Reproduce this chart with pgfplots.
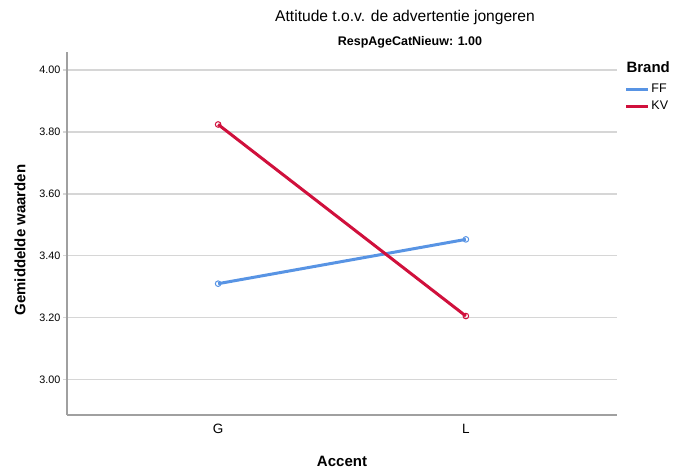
\documentclass[border=0pt]{standalone}
\usepackage{fontspec}
\setmainfont{Liberation Sans}
\usepackage{pgfplots}
\pgfplotsset{compat=1.18}
\definecolor{ffblue}{RGB}{88,148,228}
\definecolor{kvred}{RGB}{208,16,60}
\definecolor{gridgray}{RGB}{214,214,214}
\definecolor{axisgray}{RGB}{160,160,160}
\begin{document}
\begin{tikzpicture}[x=1pt,y=1pt]
\path[use as bounding box] (0,0) rectangle (687,472);
\begin{axis}[
  at={(67pt,57pt)}, anchor=south west,
  scale only axis, width=550pt, height=363pt,
  xmin=-0.61, xmax=1.61, ymin=2.886, ymax=4.058,
  xtick={0,1}, xticklabels={G,L},
  ytick={3,3.2,3.4,3.6,3.8,4},
  yticklabel style={/pgf/number format/fixed, /pgf/number format/fixed zerofill, /pgf/number format/precision=2},
  /pgf/number format/assume math mode=true,
  axis lines*=left,
  axis line style={axisgray, line width=1.4pt},
  ymajorgrids, grid style={gridgray, line width=1.3pt},
  tick align=outside,
  ytick style={gridgray, line width=1.3pt},
  major tick length=4pt,
  xtick style={draw=none},
  yticklabel style={font=\fontsize{10.8}{12}\selectfont, xshift=1pt},
  xticklabel style={font=\fontsize{13.5}{16}\selectfont, yshift=-2pt},
  legend style={at={(rel axis cs:1.014,0.916)}, anchor=north west, draw=none, fill=none,
    font=\fontsize{12.5}{14}\selectfont, row sep=4pt, inner sep=0pt,
    nodes={inner sep=1.5pt}},
  legend cell align=left,
  legend image code/.code={\draw[#1, line width=3pt] (0pt,0pt) -- (22pt,0pt);},
]
\addplot[ffblue, line width=3pt, mark=o, mark size=2.8pt, mark options={line width=1pt, fill=white}] coordinates {(0,3.310) (1,3.453)};
\addlegendentry{FF}
\addplot[kvred, line width=3pt, mark=o, mark size=2.8pt, mark options={line width=1pt, fill=white}] coordinates {(0,3.824) (1,3.2055)};
\addlegendentry{KV}
\end{axis}
\node[anchor=west, font=\bfseries\fontsize{15}{18}\selectfont] at (623,405) {Brand};
\node[font=\fontsize{15.6}{18}\selectfont] at (405,455) {Attitude t.o.v. de advertentie jongeren};
\node[font=\bfseries\fontsize{12.5}{15}\selectfont] at (410,430) {RespAgeCatNieuw: 1.00};
\node[rotate=90, font=\bfseries\fontsize{15}{18}\selectfont] at (20,232) {Gemiddelde waarden};
\node[font=\bfseries\fontsize{15}{18}\selectfont] at (342,11) {Accent};
\end{tikzpicture}
\end{document}
